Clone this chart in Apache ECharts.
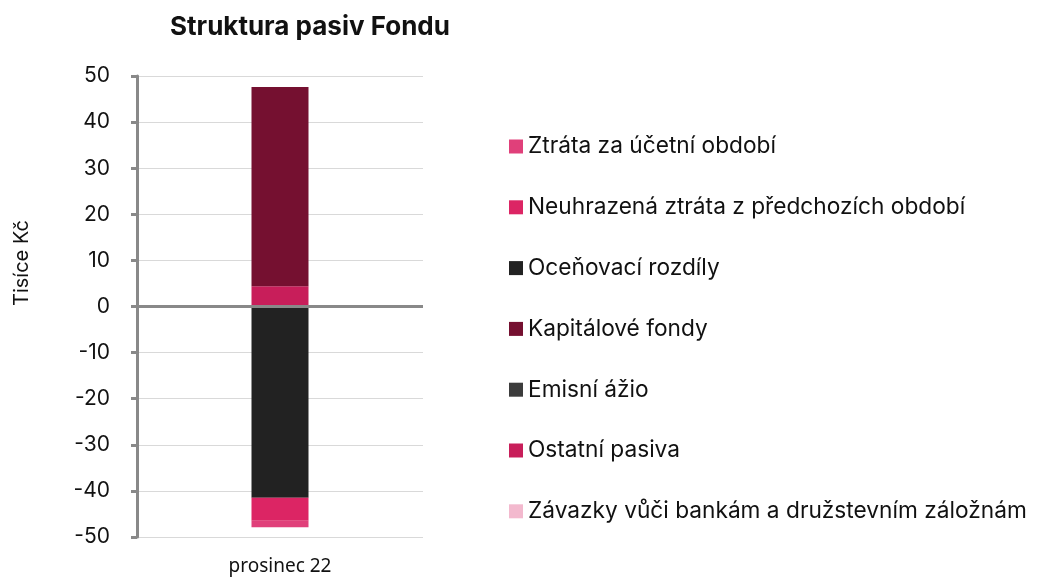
<!DOCTYPE html>
<html>
<head>
<meta charset="utf-8">
<script src="https://cdn.jsdelivr.net/npm/echarts@6/dist/echarts.min.js"></script>
<style>
    html, body { margin: 0; padding: 0; background: #fff; }
    #chart { width: 1040px; height: 579px; }
</style>
</head>
<body>
<div id="chart"></div>
<script>
    var categories = ['prosinec 22'];

    // stacking order (bottom first); legend shows them reversed
    var seriesNames = [
        'Závazky vůči bankám a družstevním záložnám',
        'Ostatní pasiva',
        'Emisní ážio',
        'Kapitálové fondy',
        'Oceňovací rozdíly',
        'Neuhrazená ztráta z předchozích období',
        'Ztráta za účetní období'
    ];
    var seriesValues = [
        [0],
        [4.4],
        [0],
        [43.2],
        [-41.5],
        [-5.0],
        [-1.4]
    ];
    var seriesColors = ['#f3b9ce', '#c81e5a', '#3c3c3c', '#751030', '#222222', '#dc2564', '#e0407a'];

    var yTicks = { min: -50, max: 50, interval: 10 };

    var font = 'Inter, "Noto Sans", sans-serif';

    var series = seriesNames.map(function (name, i) {
        var s = {
            name: name,
            type: 'bar',
            stack: 'total',
            barWidth: 57,
            itemStyle: { color: seriesColors[i] },
            data: seriesValues[i]
        };
        if (i === 0) {
            // zero line across the plot
            s.markLine = {
                silent: true,
                symbol: 'none',
                label: { show: false },
                lineStyle: { color: '#898989', width: 3, type: 'solid' },
                data: [{ yAxis: 0 }]
            };
        }
        return s;
    });

    var chart = echarts.init(document.getElementById('chart'));
    chart.setOption({
        animation: false,
        title: {
            text: 'Struktura pasiv Fondu',
            left: 165,
            top: 9,
            textStyle: { fontFamily: font, fontSize: 26, fontWeight: 'bold', color: '#111' }
        },
        legend: {
            orient: 'vertical',
            left: 509,
            top: 135,
            padding: 0,
            icon: 'rect',
            itemWidth: 14,
            itemHeight: 14,
            itemGap: 37.8,
            data: seriesNames.slice().reverse(),
            textStyle: { fontFamily: font, fontSize: 22.7, color: '#111', lineHeight: 22 }
        },
        graphic: [{
            type: 'text',
            rotation: Math.PI / 2,
            x: 22,
            y: 263,
            style: {
                text: 'Tisíce Kč',
                font: '20px ' + font,
                fill: '#111',
                align: 'center',
                verticalAlign: 'middle'
            }
        }],
        grid: { left: 137, right: 617, top: 76, bottom: 42 },
        xAxis: {
            type: 'category',
            data: categories,
            axisLine: { show: false },
            axisTick: { show: false },
            axisLabel: { fontFamily: '"Noto Sans", sans-serif', fontSize: 19, color: '#111', margin: 20 }
        },
        yAxis: {
            type: 'value',
            min: yTicks.min,
            max: yTicks.max,
            interval: yTicks.interval,
            axisLine: { show: true, lineStyle: { color: '#898989', width: 3 } },
            axisTick: { show: true, length: 6, lineStyle: { color: '#898989', width: 3 } },
            axisLabel: { fontFamily: font, fontSize: 21, color: '#111', margin: 27 },
            splitLine: { lineStyle: { color: '#d9d9d9', width: 1 } }
        },
        series: series
    });
</script>
</body>
</html>
